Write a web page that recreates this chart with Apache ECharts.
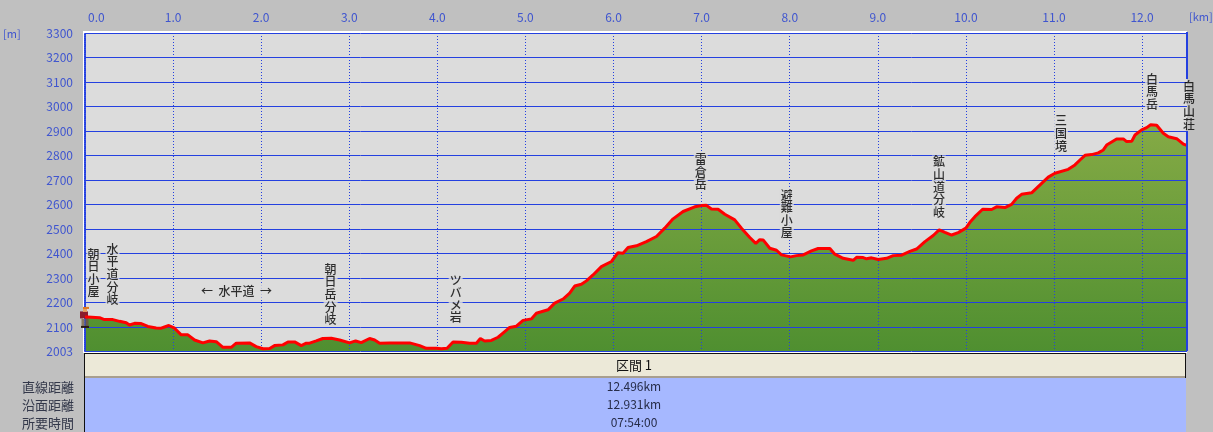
<!DOCTYPE html>
<html>
<head>
<meta charset="utf-8">
<style>
  html, body { margin: 0; padding: 0; background: #c0c0c0; }
  #chart { width: 1213px; height: 432px; }
</style>
<script src="https://cdn.jsdelivr.net/npm/echarts@6/dist/echarts.min.js"></script>
</head>
<body>
<div id="chart"></div>
<script>
// 縦断面の読み取り値
const profileKm = [0, 0.03, 0.165, 0.22, 0.316, 0.392, 0.468, 0.505, 0.562, 0.638, 0.714, 0.808, 0.865, 0.903, 0.952, 1.017, 1.092, 1.168, 1.244, 1.338, 1.414, 1.49, 1.566, 1.66, 1.717, 1.868, 1.944, 2.02, 2.096, 2.152, 2.247, 2.304, 2.38, 2.455, 2.512, 2.55, 2.625, 2.7, 2.796, 2.89, 3.004, 3.072, 3.136, 3.231, 3.288, 3.345, 3.458, 3.572, 3.686, 3.799, 3.875, 3.988, 4.045, 4.11, 4.178, 4.272, 4.367, 4.443, 4.488, 4.537, 4.613, 4.689, 4.765, 4.821, 4.897, 4.973, 5.067, 5.124, 5.256, 5.332, 5.427, 5.502, 5.559, 5.635, 5.692, 5.767, 5.862, 5.976, 6.051, 6.108, 6.165, 6.26, 6.373, 6.487, 6.581, 6.676, 6.79, 6.922, 6.998, 7.055, 7.111, 7.187, 7.263, 7.376, 7.452, 7.547, 7.615, 7.66, 7.698, 7.774, 7.85, 7.907, 8.009, 8.077, 8.153, 8.247, 8.323, 8.456, 8.512, 8.607, 8.721, 8.759, 8.834, 8.872, 8.929, 9.005, 9.1, 9.175, 9.27, 9.364, 9.44, 9.535, 9.629, 9.697, 9.762, 9.838, 9.913, 10.0, 10.046, 10.102, 10.19, 10.292, 10.348, 10.443, 10.519, 10.576, 10.632, 10.746, 10.86, 10.935, 11.011, 11.162, 11.238, 11.295, 11.352, 11.427, 11.503, 11.56, 11.598, 11.711, 11.787, 11.825, 11.882, 11.92, 11.995, 12.052, 12.098, 12.166, 12.241, 12.298, 12.393, 12.469, 12.507];
const profileM = [2142, 2142, 2139, 2131, 2131, 2124, 2118, 2109, 2116, 2115, 2103, 2097, 2096, 2101, 2107, 2096, 2069, 2069, 2048, 2036, 2044, 2041, 2018, 2018, 2035, 2036, 2021, 2012, 2013, 2025, 2028, 2040, 2040, 2025, 2035, 2035, 2044, 2054, 2055, 2048, 2036, 2044, 2037, 2054, 2048, 2035, 2036, 2036, 2036, 2025, 2014, 2014, 2012, 2014, 2040, 2039, 2035, 2035, 2054, 2044, 2046, 2059, 2082, 2099, 2104, 2128, 2134, 2157, 2171, 2198, 2215, 2239, 2268, 2275, 2289, 2313, 2347, 2368, 2404, 2402, 2425, 2432, 2449, 2470, 2504, 2542, 2572, 2591, 2596, 2597, 2582, 2581, 2561, 2538, 2504, 2466, 2442, 2457, 2456, 2422, 2414, 2395, 2387, 2392, 2395, 2411, 2421, 2421, 2398, 2381, 2373, 2385, 2384, 2379, 2383, 2376, 2381, 2392, 2394, 2409, 2419, 2449, 2474, 2497, 2487, 2476, 2486, 2504, 2528, 2551, 2581, 2580, 2591, 2588, 2601, 2626, 2642, 2648, 2687, 2712, 2728, 2744, 2762, 2782, 2801, 2804, 2811, 2823, 2843, 2868, 2868, 2857, 2858, 2884, 2905, 2914, 2926, 2924, 2891, 2877, 2869, 2847, 2842];

// 地点名
const spotNames = ['朝日小屋', '水平道分岐', '朝日岳分岐', 'ツバメ岩', '雷倉岳', '避難小屋', '鉱山道分岐', '三国境', '白馬岳', '白馬山荘'];
const spotKm = [0.097, 0.312, 2.788, 4.208, 6.99, 7.967, 9.694, 11.079, 12.113, 12.533];
const spotM = [2321, 2315, 2234, 2215, 2733, 2562, 2672, 2890, 3061, 3006];
const noteText = '←  水平道  →';
const noteKm = 1.72;
const noteM = 2246;

const kmTicks = [0, 1, 2, 3, 4, 5, 6, 7, 8, 9, 10, 11, 12];
const mTicks = [2003, 2100, 2200, 2300, 2400, 2500, 2600, 2700, 2800, 2900, 3000, 3100, 3200, 3300];

const rowHeader = '区間 1';
const rowNames = ['直線距離', '沿面距離', '所要時間'];
const rowValues = ['12.496km', '12.931km', '07:54:00'];

const BLUE = '#2440e0';
const LABEL_BLUE = '#3f55cf';
const FONT = '"Noto Sans CJK JP", sans-serif';

const points = profileKm.map((km, i) => [km, profileM[i]]);
const spots = spotNames.map((name, i) => ({
  value: [spotKm[i], spotM[i]],
  text: name.split('').join('\n'),
  // 右端の白馬山荘だけプロットからはみ出すので地色を敷かない
  label: i === spotNames.length - 1 ? { backgroundColor: 'transparent' } : undefined
}));
spots.push({ value: [noteKm, noteM], text: noteText });

const rowY = [387, 405, 423];
const tableGraphics = [
  // プロット外周の白い縁
  { type: 'rect', z: -1, shape: { x: 83, y: 31, width: 1104, height: 322 }, style: { fill: '#ffffff' } },
  // 右端の線は白馬山荘の文字の所で切れる
  { type: 'rect', z: 10, shape: { x: 1186, y: 32, width: 2, height: 47 }, style: { fill: BLUE } },
  { type: 'rect', z: 10, shape: { x: 1186, y: 131, width: 2, height: 220 }, style: { fill: BLUE } },
  { type: 'rect', shape: { x: 84, y: 353, width: 1103, height: 79 }, style: { fill: '#111111' } },
  { type: 'rect', shape: { x: 85, y: 354, width: 1100, height: 23 }, style: { fill: '#ece9d8' } },
  { type: 'rect', shape: { x: 85, y: 376, width: 1100, height: 2 }, style: { fill: '#a89f8f' } },
  { type: 'rect', shape: { x: 85, y: 378, width: 1101, height: 54 }, style: { fill: '#a6b8ff' } },
  { type: 'rect', shape: { x: 1186, y: 353, width: 27, height: 79 }, style: { fill: '#c0c0c0' } },
  { type: 'text', x: 634, y: 365, style: { text: rowHeader, font: '13px ' + FONT, fill: '#111111', align: 'center', verticalAlign: 'middle' } },
  { type: 'text', x: 1189, y: 17, style: { text: '[km]', font: '11px ' + FONT, fill: LABEL_BLUE, verticalAlign: 'middle' } },
  { type: 'text', x: 3, y: 34, style: { text: '[m]', font: '11px ' + FONT, fill: LABEL_BLUE, verticalAlign: 'middle' } }
];
rowNames.forEach((name, i) => {
  tableGraphics.push({ type: 'text', x: 74, y: rowY[i], style: { text: name, font: '13px ' + FONT, fill: '#33384a', align: 'right', verticalAlign: 'middle' } });
  tableGraphics.push({ type: 'text', x: 634, y: rowY[i] - 1, style: { text: rowValues[i], font: '12px ' + FONT, fill: '#262c48', align: 'center', verticalAlign: 'middle' } });
});

const chart = echarts.init(document.getElementById('chart'), null, { renderer: 'canvas' });
chart.setOption({
  animation: false,
  backgroundColor: '#c0c0c0',
  textStyle: { fontFamily: FONT },
  grid: {
    left: 85, top: 33, width: 1102, height: 318,
    show: true, backgroundColor: '#dcdcdc', borderWidth: 0
  },
  xAxis: {
    type: 'value',
    position: 'top',
    min: 0,
    max: 12.51,
    z: 3,
    axisLine: { show: false },
    axisTick: { show: false, customValues: kmTicks },
    axisLabel: {
      customValues: kmTicks,
      color: LABEL_BLUE,
      fontSize: 12,
      margin: 10,
      alignMinLabel: 'left',
      formatter: v => (v === 0 ? '{first|0.0}' : v.toFixed(1)),
      rich: { first: { color: LABEL_BLUE, fontSize: 12, padding: [0, 0, 0, 3] } }
    },
    splitLine: { show: true, lineStyle: { color: BLUE, width: 1, type: [1, 2] } }
  },
  yAxis: {
    type: 'value',
    min: 2003,
    max: 3300,
    z: 3,
    axisLine: { show: true, onZero: false, lineStyle: { color: BLUE, width: 2, type: [1, 1] } },
    axisTick: { show: false, customValues: mTicks },
    axisLabel: { customValues: mTicks, color: LABEL_BLUE, fontSize: 12, margin: 12, formatter: v => String(v) },
    splitLine: { show: true, lineStyle: { color: BLUE, width: 1 } }
  },
  graphic: tableGraphics,
  series: [
    {
      // 地面の塗り
      type: 'line',
      z: 1,
      data: points,
      symbol: 'none',
      lineStyle: { width: 0 },
      areaStyle: {
        opacity: 1,
        color: new echarts.graphic.LinearGradient(0, 33, 0, 351, [
          { offset: 0, color: '#9bb54e' },
          { offset: 1, color: '#4f8f30' }
        ], true)
      }
    },
    {
      // 断面線
      type: 'line',
      z: 5,
      data: points,
      symbol: 'none',
      lineStyle: { color: '#ff0000', width: 3 },
      markPoint: {
        silent: true,
        symbol: 'rect',
        label: { show: false },
        data: [
          { coord: [0, 2142], symbolSize: [3, 8], symbolOffset: [-2, 6], itemStyle: { color: '#8a7a60' } },
          { coord: [0, 2142], symbolSize: [3, 8], symbolOffset: [2, 6], itemStyle: { color: '#6b5c48' } },
          { coord: [0, 2142], symbolSize: [8, 2], symbolOffset: [0, 10], itemStyle: { color: '#2a1a10' } },
          { coord: [0, 2142], symbolSize: [8, 7], symbolOffset: [-1, -2], itemStyle: { color: '#8c1c2c' } },
          { coord: [0, 2142], symbolSize: [4, 4], symbolOffset: [0, -7], itemStyle: { color: '#e8a060' } },
          { coord: [0, 2142], symbolSize: [6, 2], symbolOffset: [1, -9], itemStyle: { color: '#e07820' } }
        ]
      }
    },
    {
      // 地点名
      type: 'scatter',
      z: 6,
      clip: false,
      silent: true,
      symbolSize: 0,
      data: spots,
      label: {
        show: true,
        position: 'inside',
        formatter: p => p.data.text,
        color: '#000000',
        fontSize: 12,
        fontWeight: 500,
        lineHeight: 12.6,
        fontFamily: FONT,
        backgroundColor: '#dcdcdc',
        padding: [0, 1]
      }
    }
  ]
});
</script>
</body>
</html>
